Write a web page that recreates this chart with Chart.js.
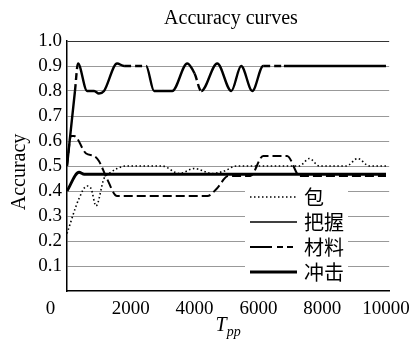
<!DOCTYPE html>
<html>
<head>
<meta charset="utf-8">
<script src="https://cdn.jsdelivr.net/npm/chart.js@4.4.1/dist/chart.umd.min.js"></script>
<style>
  html, body { margin: 0; padding: 0; background: #fff; }
</style>
</head>
<body>
<canvas id="accChart" width="417" height="346"></canvas>
<script>
// ── data ──────────────────────────────────────────────
const seriesNames = ['包', '把握', '材料', '冲击'];
const xTicks = [0, 2000, 4000, 6000, 8000, 10000];
const yTicks = [0, 0.1, 0.2, 0.3, 0.4, 0.5, 0.6, 0.7, 0.8, 0.9, 1.0];

const baoX = [0, 377, 628, 754, 910, 1160, 1320, 1570, 1850, 2980, 3520, 3990, 4550, 4930, 5310, 7280, 7600, 7910, 8760, 9110, 9480, 10000];
const baoY = [0.23, 0.37, 0.42, 0.41, 0.34, 0.45, 0.47, 0.49, 0.50, 0.50, 0.47, 0.49, 0.47, 0.48, 0.50, 0.50, 0.53, 0.50, 0.50, 0.53, 0.50, 0.50];

const bawoX = [0, 250, 345, 630, 850, 1000, 1160, 1570, 1790, 2480, 2730, 3300, 3770, 4000, 4210, 4710, 5150, 5460, 5810, 6150, 6800, 10000];
const bawoY = [0.50, 0.80, 0.91, 0.80, 0.80, 0.79, 0.80, 0.91, 0.90, 0.90, 0.80, 0.80, 0.91, 0.87, 0.80, 0.91, 0.80, 0.90, 0.80, 0.90, 0.90, 0.90];

const cailiaoX = [0, 125, 220, 600, 850, 1000, 1250, 1570, 4400, 4700, 5050, 5750, 6150, 6900, 7300, 10000];
const cailiaoY = [0.50, 0.62, 0.62, 0.55, 0.54, 0.52, 0.45, 0.38, 0.38, 0.41, 0.46, 0.46, 0.54, 0.54, 0.46, 0.46];

const chongjiX = [0, 377, 540, 10000];
const chongjiY = [0.40, 0.475, 0.467, 0.467];

// dashed stretches of the top curve (x ranges)
const bawoDashed = [[250, 345], [1790, 2480], [4000, 4210], [6150, 6800]];

const pts = (xs, ys) => xs.map((x, i) => ({ x: x, y: ys[i] }));

const SERIF = '"Liberation Serif", "DejaVu Serif", serif';
const CJK = '"Noto Sans CJK SC", sans-serif';

// ── overlay: titles + in-plot legend ─────────────────
const overlay = {
  id: 'overlay',
  beforeDatasetsDraw(chart) {
    const ctx = chart.ctx;
    ctx.save();
    ctx.fillStyle = '#fff';
    ctx.fillRect(245, 185, 103, 99);
    chart.data.datasets.forEach((ds, i) => {
      const cy = 197 + i * 25;
      ctx.beginPath();
      ctx.strokeStyle = '#000';
      ctx.lineWidth = ds.legendWidth;
      ctx.setLineDash(ds.legendDash);
      ctx.moveTo(250, cy);
      ctx.lineTo(297, cy);
      ctx.stroke();
      ctx.setLineDash([]);
      ctx.fillStyle = '#000';
      ctx.font = '20px ' + CJK;
      ctx.textBaseline = 'middle';
      ctx.textAlign = 'left';
      ctx.fillText(ds.label, 304, cy);
    });
    ctx.restore();
  },
  afterDraw(chart) {
    const ctx = chart.ctx;
    const area = chart.chartArea;
    ctx.save();
    ctx.fillStyle = '#000';
    // chart title
    ctx.font = '20px ' + SERIF;
    ctx.textAlign = 'center';
    ctx.textBaseline = 'alphabetic';
    ctx.fillText('Accuracy curves', 231, 24);
    // y title
    ctx.save();
    ctx.translate(20, (area.top + area.bottom) / 2 + 6);
    ctx.rotate(-Math.PI / 2);
    ctx.font = '20px ' + SERIF;
    ctx.textBaseline = 'middle';
    ctx.fillText('Accuracy', 0, 0);
    ctx.restore();
    // x title T_pp
    ctx.font = 'italic 20px ' + SERIF;
    ctx.textAlign = 'left';
    const tW = ctx.measureText('T').width;
    ctx.font = 'italic 14px ' + SERIF;
    const pW = ctx.measureText('pp').width;
    const sx = (area.left + area.right) / 2 - (tW + pW) / 2;
    ctx.font = 'italic 20px ' + SERIF;
    ctx.fillText('T', sx, 331);
    ctx.font = 'italic 14px ' + SERIF;
    ctx.fillText('pp', sx + tW, 336);
    ctx.restore();
  }
};

new Chart(document.getElementById('accChart'), {
  type: 'line',
  data: {
    datasets: [
      { label: seriesNames[0], data: pts(baoX, baoY), borderColor: '#000', borderWidth: 1.6,
        borderDash: [1.5, 2.5], legendDash: [1.5, 2.5], legendWidth: 1.6 },
      { label: seriesNames[1], data: pts(bawoX, bawoY), borderColor: '#000', borderWidth: 2.4,
        legendDash: [], legendWidth: 1.6,
        segment: { borderDash: c => bawoDashed.some(r => c.p0.parsed.x >= r[0] && c.p1.parsed.x <= r[1]) ? [7, 4] : undefined } },
      { label: seriesNames[2], data: pts(cailiaoX, cailiaoY), borderColor: '#000', borderWidth: 2,
        borderDash: [9, 4], legendDash: [22, 5, 6, 4, 6, 4], legendWidth: 2 },
      { label: seriesNames[3], data: pts(chongjiX, chongjiY), borderColor: '#000', borderWidth: 2.8,
        legendDash: [], legendWidth: 2.8 }
    ]
  },
  options: {
    responsive: false, animation: false, devicePixelRatio: 1,
    cubicInterpolationMode: 'monotone',
    elements: { point: { radius: 0 }, line: { fill: false, borderCapStyle: 'butt' } },
    layout: { padding: { left: 0, top: 41, right: 27, bottom: 0 } },
    plugins: { legend: { display: false }, title: { display: false }, tooltip: { enabled: false } },
    scales: {
      x: {
        type: 'linear', min: 0, max: 10100,
        afterBuildTicks: a => { a.ticks = xTicks.map(v => ({ value: v })); },
        afterFit: a => { a.height = 55; },
        grid: { display: false, drawTicks: false },
        border: { color: '#000', width: 1.5 },
        ticks: { padding: 7, maxRotation: 0, autoSkip: false, color: '#000', font: { family: SERIF, size: 19 },
          callback: v => v === 0 ? '0' + ' '.repeat(7) : String(v) }
      },
      y: {
        min: 0, max: 1,
        afterBuildTicks: a => { a.ticks = yTicks.map(v => ({ value: v })); },
        afterFit: a => { a.width = 67; },
        grid: { drawTicks: false, lineWidth: 1,
          color: c => c.tick.value === 1 ? '#333' : (c.tick.value === 0 ? 'rgba(0,0,0,0)' : '#999') },
        border: { color: '#000', width: 1.5 },
        ticks: { padding: 5, autoSkip: false, color: '#000', font: { family: SERIF, size: 19 },
          callback: v => v === 0 ? '' : v.toFixed(1) }
      }
    }
  },
  plugins: [overlay]
});
</script>
</body>
</html>
